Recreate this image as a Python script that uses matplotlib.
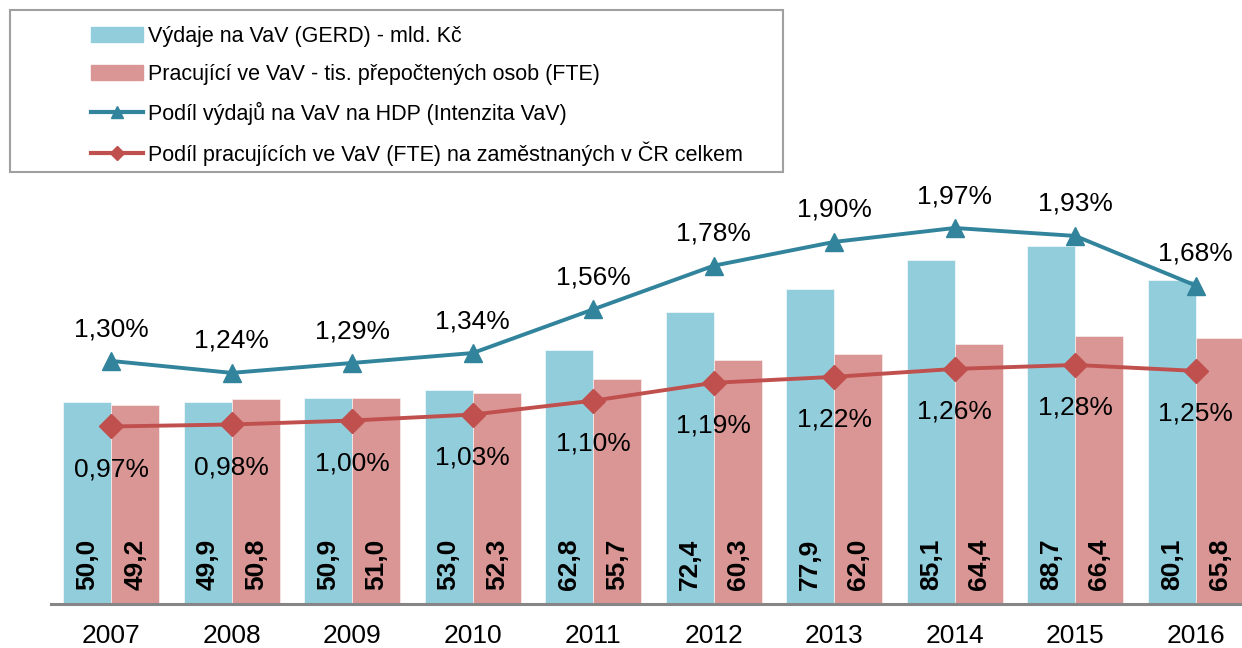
import numpy as np
import matplotlib.pyplot as plt
from matplotlib.patches import Rectangle
from matplotlib.lines import Line2D
from matplotlib.patches import Patch

plt.rcParams['font.family'] = ['Liberation Sans', 'DejaVu Sans']

years = ['2007', '2008', '2009', '2010', '2011', '2012', '2013', '2014', '2015', '2016']
gerd = [50.0, 49.9, 50.9, 53.0, 62.8, 72.4, 77.9, 85.1, 88.7, 80.1]
fte = [49.2, 50.8, 51.0, 52.3, 55.7, 60.3, 62.0, 64.4, 66.4, 65.8]
intenzita = [1.30, 1.24, 1.29, 1.34, 1.56, 1.78, 1.90, 1.97, 1.93, 1.68]
podil_fte = [0.97, 0.98, 1.00, 1.03, 1.10, 1.19, 1.22, 1.26, 1.28, 1.25]

labels = ['Výdaje na VaV (GERD) - mld. Kč',
          'Pracující ve VaV - tis. přepočtených osob (FTE)',
          'Podíl výdajů na VaV na HDP (Intenzita VaV)',
          'Podíl pracujících ve VaV (FTE) na zaměstnaných v ČR celkem']

c_blue = '#92CDDC'
c_red = '#DA9694'
c_teal = '#31849B'
c_dred = '#C0504D'


def fmt(v, nd):
    return f'{v:.{nd}f}'.replace('.', ',')


W, H = 1242, 648
fig = plt.figure(figsize=(W / 100, H / 100), dpi=100)
ax = fig.add_axes([51 / W, 44 / H, 1205 / W, 404 / H])
x = np.arange(len(years))

ax.bar(x - 0.2, gerd, 0.4, color=c_blue, edgecolor='#EEF6F8', linewidth=0.6)
ax.bar(x + 0.2, fte, 0.4, color=c_red, edgecolor='#F6E8E8', linewidth=0.6)
for i in range(len(years)):
    ax.text(x[i] - 0.2, 3.5, fmt(gerd[i], 1), rotation=90, ha='center', va='bottom',
            fontsize=19, fontweight='bold')
    ax.text(x[i] + 0.2, 3.5, fmt(fte[i], 1), rotation=90, ha='center', va='bottom',
            fontsize=19, fontweight='bold')

ax.set_xlim(-0.5, 9.5)
ax.set_ylim(0, 100)
ax.set_xticks(x)
ax.set_xticklabels(years, fontsize=19)
ax.tick_params(axis='x', length=0, pad=14.5)
ax.set_yticks([])
for s in ['left', 'right', 'top']:
    ax.spines[s].set_visible(False)
ax.spines['bottom'].set_color('#868686')
ax.spines['bottom'].set_linewidth(2.2)

ax2 = ax.twinx()
ax2.set_ylim(0.0756, 2.111)
ax2.plot(x, intenzita, color=c_teal, lw=2.8, marker='^', markersize=12.5)
ax2.plot(x, podil_fte, color=c_dred, lw=2.8, marker='D', markersize=12)
for i in range(len(years)):
    ax2.annotate(fmt(intenzita[i], 2) + '%', (x[i], intenzita[i]), xytext=(0, 23),
                 textcoords='offset points', ha='center', va='center', fontsize=19)
    ax2.annotate(fmt(podil_fte[i], 2) + '%', (x[i], podil_fte[i]), xytext=(0, -31),
                 textcoords='offset points', ha='center', va='center', fontsize=19)
ax2.set_yticks([])
for s in ['left', 'right', 'top', 'bottom']:
    ax2.spines[s].set_visible(False)

# legend box
fig.patches.append(Rectangle((10 / W, 1 - 172 / H), 773 / W, 162 / H, transform=fig.transFigure,
                             facecolor='white', edgecolor='#A0A0A0', linewidth=1.5))
handles = [Patch(color=c_blue), Patch(color=c_red),
           Line2D([], [], color=c_teal, lw=3, marker='^', markersize=9),
           Line2D([], [], color=c_dred, lw=3, marker='D', markersize=7)]
fig.legend(handles, labels, loc='upper left', bbox_to_anchor=(91 / W, 1 - 26 / H),
           frameon=False, fontsize=15.5, borderpad=0, borderaxespad=0,
           handlelength=2.4, handletextpad=0.25, labelspacing=0.78)

fig.savefig('out.png', dpi=100)
